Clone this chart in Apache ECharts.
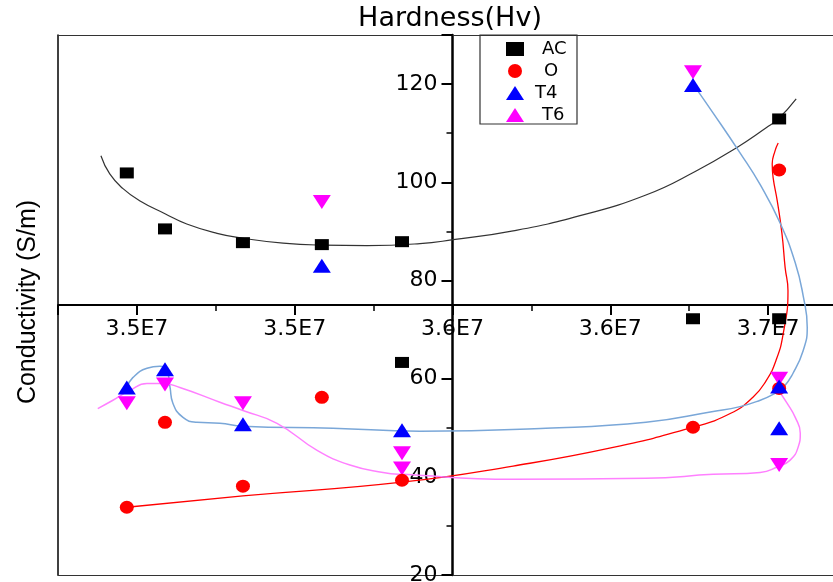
<!DOCTYPE html>
<html><head><meta charset="utf-8">
<script src="https://cdn.jsdelivr.net/npm/echarts@6/dist/echarts.min.js"></script>
<style>html,body{margin:0;padding:0;background:#fff}#c{width:833px;height:582px}</style>
</head><body><div id="c"></div>
<script>
// ---- data ----
const seriesNames = ['AC', 'O', 'T4', 'T6'];
const acPoints = [[3.4968e7,101.9],[3.5089e7,90.5],[3.5336e7,87.7],[3.5586e7,87.3],[3.5840e7,87.9],[3.5840e7,63.3],[3.6762e7,72.2],[3.7035e7,72.2],[3.7035e7,112.9]];
const oPoints  = [[3.4968e7,33.8],[3.5089e7,51.1],[3.5336e7,38.1],[3.5586e7,56.2],[3.5840e7,39.3],[3.6762e7,50.1],[3.7035e7,102.5],[3.7035e7,58.0]];
const t4Points = [[3.4968e7,58.2],[3.5089e7,61.9],[3.5336e7,50.7],[3.5586e7,83.0],[3.5840e7,49.5],[3.6762e7,119.8],[3.7035e7,58.4],[3.7035e7,49.9]];
const t6Points = [[3.4968e7,55.0],[3.5089e7,58.8],[3.5336e7,55.0],[3.5586e7,96.0],[3.5840e7,44.8],[3.5840e7,41.7],[3.6762e7,122.4],[3.7035e7,60.0],[3.7035e7,42.4]];

const acFit = [[3.4886e7,105.4],[3.4914e7,101.7],[3.4956e7,98.7],[3.5010e7,96.2],[3.5089e7,93.6],[3.5158e7,91.5],[3.5254e7,89.6],[3.5336e7,88.6],[3.5463e7,87.6],[3.5586e7,87.2],[3.5729e7,87.1],[3.5897e7,87.5],[3.6002e7,88.3],[3.6192e7,90.1],[3.6404e7,93.2],[3.6613e7,97.4],[3.6772e7,102.3],[3.6899e7,107.0],[3.6994e7,111.1],[3.7032e7,112.9],[3.7089e7,117.0]];
const oFit = [[3.4968e7,33.8],[3.5336e7,36.1],[3.5840e7,38.9],[3.6192e7,42.2],[3.6509e7,46.0],[3.6762e7,50.1],[3.6880e7,52.9],[3.6952e7,56.2],[3.6994e7,59.6],[3.7025e7,63.7],[3.7048e7,69.2],[3.7063e7,77.9],[3.7054e7,82.6],[3.7044e7,89.5],[3.7029e7,96.2],[3.7016e7,100.9],[3.7013e7,103.7],[3.7022e7,106.4],[3.7032e7,108.0]];
const t4Fit = [[3.4968e7,58.2],[3.4987e7,60.2],[3.5032e7,62.1],[3.5073e7,62.5],[3.5095e7,61.7],[3.5105e7,58.2],[3.5114e7,55.0],[3.5146e7,52.1],[3.5190e7,51.1],[3.5263e7,50.9],[3.5336e7,50.3],[3.5621e7,49.9],[3.5897e7,49.3],[3.6296e7,49.9],[3.6613e7,51.1],[3.6826e7,53.3],[3.6911e7,54.3],[3.6975e7,55.6],[3.7016e7,56.8],[3.7048e7,58.2],[3.7079e7,61.1],[3.7111e7,65.7],[3.7124e7,70.4],[3.7111e7,76.9],[3.7086e7,83.6],[3.7038e7,91.7],[3.6975e7,99.5],[3.6911e7,106.0],[3.6826e7,114.1],[3.6762e7,120.0]];
const t6Fit = [[3.4876e7,53.9],[3.4924e7,55.6],[3.4978e7,57.6],[3.5032e7,59.0],[3.5082e7,59.0],[3.5136e7,58.2],[3.5263e7,55.2],[3.5336e7,53.5],[3.5444e7,50.9],[3.5571e7,45.4],[3.5675e7,42.4],[3.5780e7,40.9],[3.5843e7,40.5],[3.6192e7,39.5],[3.6613e7,39.7],[3.6826e7,40.5],[3.6975e7,40.9],[3.7029e7,42.0],[3.7070e7,43.4],[3.7095e7,46.0],[3.7102e7,48.9],[3.7086e7,52.1],[3.7060e7,55.0],[3.7029e7,58.0]];

const xTickValues = [3.50e7, 3.55e7, 3.60e7, 3.65e7, 3.70e7];
const xTickLabels = ['3.5E7', '3.5E7', '3.6E7', '3.6E7', '3.7E7'];
const yTickValues = [20, 40, 60, 80, 100, 120];
const yTickLabels = ['20', '40', '60', '80', '100', '120'];

// ---- layout ----
const X_MIN = 3.475e7, X_MAX = 3.725e7, Y_MIN = 20, Y_MAX = 130;
const X_CROSS_OFFSET = -270;   // x axis drawn at y = 75
const Y_CROSS_OFFSET = -394.5; // y axis drawn at x = 3.6E7
const FONT = 'DejaVu Sans';
const SMOOTH = 0.5;

function xFmt(v) {
  for (let i = 0; i < xTickValues.length; i++) if (Math.abs(v - xTickValues[i]) < 1) return xTickLabels[i];
  return '';
}
function yFmt(v) {
  for (let i = 0; i < yTickValues.length; i++) if (Math.abs(v - yTickValues[i]) < 1e-6) return yTickLabels[i];
  return '';
}
const noAxisExtras = { axisTick: { show: false }, axisLabel: { show: false }, splitLine: { show: false } };

const chart = echarts.init(document.getElementById('c'), null, { renderer: 'canvas' });
chart.setOption({
  animation: false,
  backgroundColor: '#fff',
  grid: { left: 58, right: -14, top: 35, bottom: 7, outerBoundsMode: 'none', containLabel: false },
  xAxis: [
    Object.assign({ type: 'value', min: X_MIN, max: X_MAX, position: 'bottom',
      axisLine: { show: true, onZero: false, lineStyle: { color: '#333', width: 1.2 } } }, noAxisExtras),
    Object.assign({ type: 'value', min: X_MIN, max: X_MAX, position: 'top',
      axisLine: { show: true, onZero: false, lineStyle: { color: '#333', width: 1.2 } } }, noAxisExtras),
    { type: 'value', min: X_MIN, max: X_MAX, splitNumber: 5, position: 'bottom', offset: X_CROSS_OFFSET,
      axisLine: { show: true, onZero: false, lineStyle: { color: '#000', width: 1.8 } },
      axisTick: { show: true, length: 10, lineStyle: { color: '#000', width: 2 } },
      axisLabel: { show: true, formatter: xFmt, margin: 13, fontSize: 22, fontFamily: FONT, color: '#000',
        showMinLabel: true, showMaxLabel: true, hideOverlap: false },
      splitLine: { show: false } },
    { type: 'value', min: X_MIN, max: X_MAX, interval: 2.5e5, position: 'bottom', offset: X_CROSS_OFFSET,
      axisLine: { show: false, onZero: false },
      axisTick: { show: true, length: 6, lineStyle: { color: '#000', width: 1.5 } },
      axisLabel: { show: false }, splitLine: { show: false } }
  ],
  yAxis: [
    Object.assign({ type: 'value', min: Y_MIN, max: Y_MAX, position: 'left',
      axisLine: { show: true, onZero: false, lineStyle: { color: '#000', width: 1.5 } } }, noAxisExtras),
    { type: 'value', min: Y_MIN, max: Y_MAX, interval: 20, position: 'left', offset: Y_CROSS_OFFSET,
      axisLine: { show: true, onZero: false, lineStyle: { color: '#000', width: 2.5 } },
      axisTick: { show: true, length: 11, lineStyle: { color: '#000', width: 2 } },
      axisLabel: { show: true, formatter: yFmt, margin: 15, fontSize: 22, fontFamily: FONT, color: '#000', hideOverlap: false },
      splitLine: { show: false } },
    { type: 'value', min: Y_MIN, max: Y_MAX, interval: 10, position: 'left', offset: Y_CROSS_OFFSET,
      axisLine: { show: false, onZero: false },
      axisTick: { show: true, length: 6, lineStyle: { color: '#000', width: 1.5 } },
      axisLabel: { show: false }, splitLine: { show: false } }
  ],
  legend: {
    orient: 'vertical', left: 506, top: 40, padding: 0,
    itemWidth: 18, itemHeight: 14, itemGap: 4,
    textStyle: { fontSize: 18, fontFamily: FONT, color: '#000' },
    data: [
      { name: 'AC', textStyle: { padding: [0, 0, 0, 13] } },
      { name: 'O', textStyle: { padding: [0, 0, 0, 15] } },
      { name: 'T4', textStyle: { padding: [0, 0, 0, 6] } },
      { name: 'T6', textStyle: { padding: [0, 0, 0, 13] } }
    ]
  },
  graphic: [
    { type: 'text', x: 450, y: 19, style: { text: 'Hardness(Hv)', font: '27px "DejaVu Sans"', fill: '#000', textAlign: 'center', verticalAlign: 'middle', textVerticalAlign: 'middle' } },
    { type: 'text', x: 28, y: 302, rotation: Math.PI / 2, style: { text: 'Conductivity (S/m)', font: '25px "Liberation Sans"', fill: '#000', textAlign: 'center', verticalAlign: 'middle', textVerticalAlign: 'middle' } },
    { type: 'rect', shape: { x: 480, y: 35, width: 97, height: 89 }, style: { fill: 'none', stroke: '#333', lineWidth: 1.2 }, z: 10 }
  ],
  series: [
    { type: 'line', name: 'AC fit', data: acFit, smooth: SMOOTH, showSymbol: false, symbol: 'none', silent: true, z: 2,
      lineStyle: { color: '#333', width: 1.2 } },
    { type: 'line', name: 'O fit', data: oFit, smooth: SMOOTH, showSymbol: false, symbol: 'none', silent: true, z: 2,
      lineStyle: { color: '#ff0000', width: 1.3 } },
    { type: 'line', name: 'T4 fit', data: t4Fit, smooth: SMOOTH, showSymbol: false, symbol: 'none', silent: true, z: 2,
      lineStyle: { color: '#7aa7d8', width: 1.5 } },
    { type: 'line', name: 'T6 fit', data: t6Fit, smooth: SMOOTH, showSymbol: false, symbol: 'none', silent: true, z: 2,
      lineStyle: { color: '#ff80ff', width: 1.5 } },
    { type: 'scatter', name: seriesNames[0], data: acPoints, symbol: 'rect', symbolSize: [14, 11], itemStyle: { color: '#000', opacity: 1 }, z: 5 },
    { type: 'scatter', name: seriesNames[3], data: t6Points, symbol: 'triangle', symbolRotate: 180, symbolSize: [18, 14], itemStyle: { color: '#ff00ff', opacity: 1 }, z: 5 },
    { type: 'scatter', name: seriesNames[1], data: oPoints, symbol: 'circle', symbolSize: [14, 13], itemStyle: { color: '#ff0000', opacity: 1 }, z: 5 },
    { type: 'scatter', name: seriesNames[2], data: t4Points, symbol: 'triangle', symbolSize: [18, 14], itemStyle: { color: '#0000ff', opacity: 1 }, z: 6 }
  ]
});
</script>
</body></html>
